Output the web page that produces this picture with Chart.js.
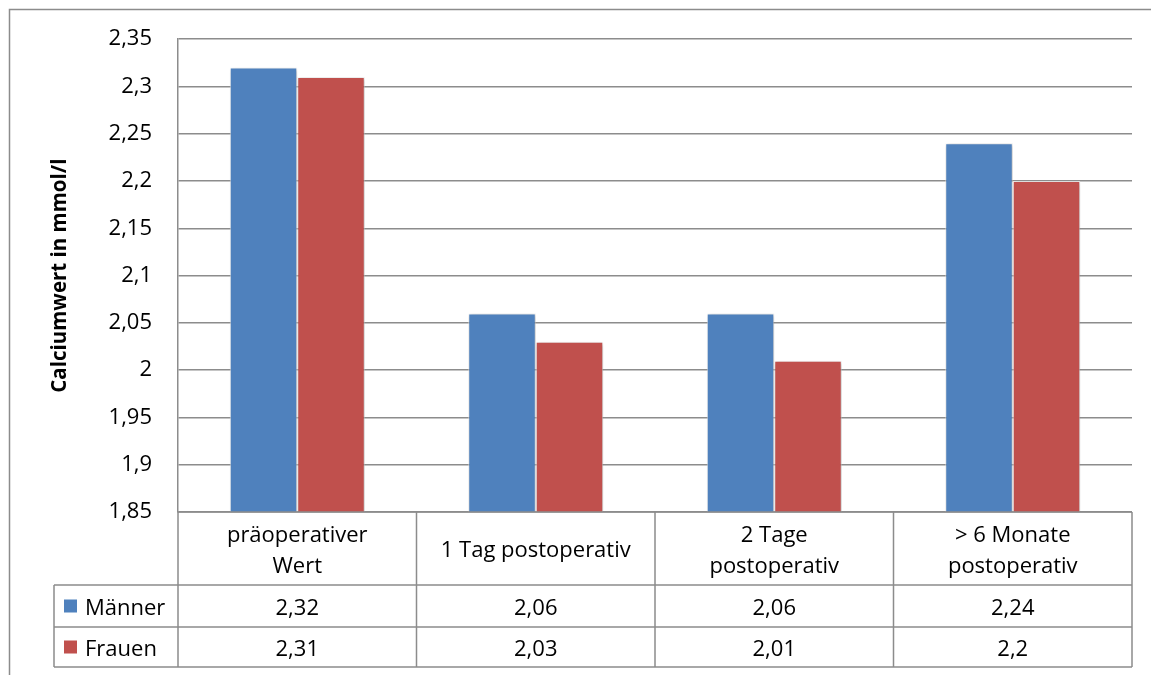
<!DOCTYPE html>
<html>
<head>
<meta charset="utf-8">
<script src="https://cdn.jsdelivr.net/npm/chart.js@4"></script>
<style>html,body{margin:0;padding:0;background:#fff}</style>
</head>
<body>
<canvas id="c" width="1151" height="675"></canvas>
<script>
// Category labels (one entry per header line)
const categories = [['präoperativer', 'Wert'], ['1 Tag postoperativ'], ['2 Tage', 'postoperativ'], ['> 6 Monate', 'postoperativ']];
const seriesNames = ['Männer', 'Frauen'];
const maenner = [2.32, 2.06, 2.06, 2.24];
const frauen = [2.31, 2.03, 2.01, 2.2];
const seriesColors = ['#4F81BD', '#C0504D'];
const yMin = 1.85, yMax = 2.35, yStep = 0.05;
const yTitle = 'Calciumwert in mmol/l';

const FONT = '"Open Sans", sans-serif';
const TEXT_SIZE = 22;
const LINE = '#8c8c8c';
const fmt = v => String(Math.round(v * 100) / 100).replace('.', ',');

// Outer chart frame
const frame = {
  id: 'frame',
  beforeDraw(chart) {
    const ctx = chart.ctx;
    ctx.save();
    ctx.strokeStyle = LINE;
    ctx.lineWidth = 1.5;
    ctx.beginPath();
    ctx.moveTo(9.5, 700);
    ctx.lineTo(9.5, 9.5);
    ctx.lineTo(1170, 9.5);
    ctx.stroke();
    ctx.restore();
  }
};

// Soft drop shadow under the bars
const barShadow = {
  id: 'barShadow',
  beforeDatasetsDraw(chart) {
    const c = chart.ctx;
    c.save();
    c.shadowColor = 'rgba(0,0,0,0.28)';
    c.shadowBlur = 4;
    c.shadowOffsetX = 1;
    c.shadowOffsetY = 1;
  },
  afterDatasetsDraw(chart) { chart.ctx.restore(); }
};

// Data table below the plot: category header, then one row per series
const dataTable = {
  id: 'dataTable',
  afterDraw(chart) {
    const { ctx, chartArea: a, scales: { x } } = chart;
    const n = categories.length;
    const colW = (a.right - a.left) / n;
    const headTop = a.bottom;
    const headBot = headTop + 73;
    const rowBounds = [headBot, headBot + 42, headBot + 82];
    const legLeft = 54;
    const series = [maenner, frauen];

    ctx.save();
    ctx.strokeStyle = LINE;
    ctx.lineWidth = 1.5;
    ctx.beginPath();
    ctx.moveTo(a.left, headTop); ctx.lineTo(a.right, headTop);
    rowBounds.forEach(y => { ctx.moveTo(legLeft, y); ctx.lineTo(a.right, y); });
    ctx.moveTo(legLeft, rowBounds[0]); ctx.lineTo(legLeft, rowBounds[2]);
    ctx.moveTo(a.left, headTop); ctx.lineTo(a.left, rowBounds[2]);
    for (let i = 1; i <= n; i++) {
      const xx = a.left + i * colW;
      ctx.moveTo(xx, headTop); ctx.lineTo(xx, rowBounds[2]);
    }
    ctx.stroke();

    ctx.fillStyle = '#000';
    ctx.font = TEXT_SIZE + 'px ' + FONT;
    ctx.textAlign = 'center';
    ctx.textBaseline = 'alphabetic';
    const headMid = (headTop + headBot) / 2 + 8.5;
    categories.forEach((lines, i) => {
      const cx = x.getPixelForValue(i);
      const lh = 31;
      lines.forEach((t, j) => {
        ctx.fillText(t, cx, headMid + (j - (lines.length - 1) / 2) * lh);
      });
    });

    series.forEach((vals, r) => {
      const mid = (rowBounds[r] + rowBounds[r + 1]) / 2;
      ctx.fillStyle = seriesColors[r];
      ctx.fillRect(64, mid - 6.5, 13, 13);
      ctx.fillStyle = '#000';
      ctx.textAlign = 'left';
      ctx.fillText(seriesNames[r], 85, mid + 8.5);
      ctx.textAlign = 'center';
      vals.forEach((v, i) => ctx.fillText(fmt(v), x.getPixelForValue(i), mid + 8.5));
    });
    ctx.restore();
  }
};

new Chart(document.getElementById('c'), {
  type: 'bar',
  data: {
    labels: categories,
    datasets: [
      { label: seriesNames[0], data: maenner, backgroundColor: seriesColors[0], borderColor: 'rgba(255,255,255,0.7)', borderWidth: 1 },
      { label: seriesNames[1], data: frauen, backgroundColor: seriesColors[1], borderColor: 'rgba(255,255,255,0.7)', borderWidth: 1 }
    ]
  },
  options: {
    responsive: false,
    animation: false,
    devicePixelRatio: 1,
    categoryPercentage: 0.566,
    barPercentage: 1,
    layout: { padding: { left: 0, top: 39, right: 19, bottom: 163 } },
    plugins: { legend: { display: false }, tooltip: { enabled: false } },
    scales: {
      x: { display: false, offset: true },
      y: {
        min: yMin, max: yMax,
        ticks: { stepSize: yStep, padding: 26, color: '#000', font: { family: FONT, size: TEXT_SIZE }, callback: v => fmt(v) },
        grid: { color: LINE, lineWidth: 1.5, drawTicks: false },
        border: { display: true, color: LINE, width: 1.5 },
        title: { display: true, text: yTitle, color: '#000', font: { family: FONT, size: 20.5, weight: 'bold' }, padding: { top: 48, bottom: 0 } },
        afterFit(s) { s.width = 178; }
      }
    }
  },
  plugins: [frame, barShadow, dataTable]
});
</script>
</body>
</html>
